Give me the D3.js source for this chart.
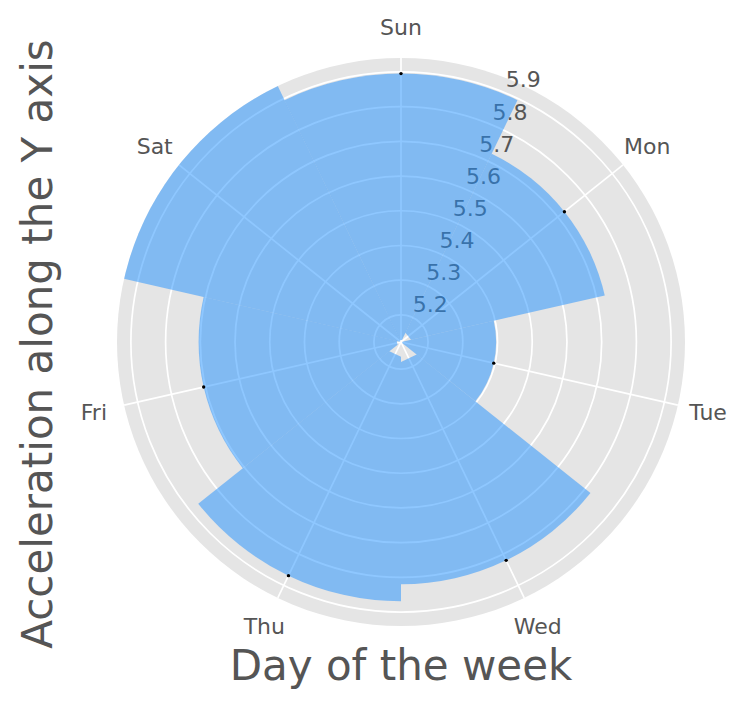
<!DOCTYPE html>
<html>
<head>
<meta charset="utf-8">
<script src="https://cdn.jsdelivr.net/npm/d3@7"></script>
<style>
  body { margin: 0; background: #fff; }
  text { font-family: "DejaVu Sans", sans-serif; fill: #555555; }
</style>
</head>
<body>
<div class="visHolder"></div>
<script>
const w = 748, h = 706;
const cx = 401, cy = 342, outerR = 284;

// data
const days = ['Sun', 'Mon', 'Tue', 'Wed', 'Thu', 'Fri', 'Sat'];
const accel = [5.895, 5.724, 5.396, 5.820, 5.869, 5.705, 5.96];
const rTicks = [5.2, 5.3, 5.4, 5.5, 5.6, 5.7, 5.8, 5.9];
const rLimits = [5.122, 5.94];

const svg = d3.select('.visHolder')
  .append('svg')
  .attr('width', w)
  .attr('height', h);

const rScale = d3.scaleLinear().domain(rLimits).range([0, outerR]);
const step = 2 * Math.PI / days.length;
const angle = d3.scaleLinear().domain([0, days.length]).range([0, 2 * Math.PI]);

// compass angle (clockwise from north) -> screen point
const pt = (a, r) => [cx + r * Math.sin(a), cy - r * Math.cos(a)];

svg.append('clipPath').attr('id', 'polar-clip')
  .append('circle').attr('cx', cx).attr('cy', cy).attr('r', outerR);

const plot = svg.append('g');

// background disc
plot.append('circle')
  .attr('cx', cx).attr('cy', cy).attr('r', outerR)
  .attr('fill', '#e5e5e5');

// grid rings
plot.selectAll('.ring')
  .data(rTicks)
  .enter()
  .append('circle')
  .attr('class', 'ring')
  .attr('cx', cx).attr('cy', cy)
  .attr('r', d => rScale(d))
  .attr('fill', 'none')
  .attr('stroke', '#fff')
  .attr('stroke-width', 1.7);

// spokes
plot.selectAll('.spoke')
  .data(days)
  .enter()
  .append('line')
  .attr('class', 'spoke')
  .attr('x1', cx).attr('y1', cy)
  .attr('x2', (d, i) => pt(angle(i), outerR)[0])
  .attr('y2', (d, i) => pt(angle(i), outerR)[1])
  .attr('stroke', '#fff')
  .attr('stroke-width', 1.7);

// radial tick labels along 22.5 degrees (drawn under the bars)
const labAng = 22.5 * Math.PI / 180;
plot.selectAll('.rlabel')
  .data(rTicks)
  .enter()
  .append('text')
  .attr('class', 'rlabel')
  .attr('x', d => pt(labAng, rScale(d))[0] + 1.5)
  .attr('y', d => pt(labAng, rScale(d))[1] - 5)
  .style('font-size', '22px')
  .text(d => d3.format('.1f')(d));

// bars: wedges whose tips get cut off near the centre, like the source renderer
const nSteps = 100;
const barPath = (v, i) => {
  const a0 = angle(i) - step / 2, a1 = angle(i) + step / 2;
  const stepV = v / nSteps;
  const firstV = Math.ceil(rLimits[0] / stepV) * stepV;
  const rIn = rScale(firstV), rTop = rScale(v);
  const p = d3.path();
  const s = pt(a1, rIn);
  p.moveTo(s[0], s[1]);
  const t = pt(a1, rTop);
  p.lineTo(t[0], t[1]);
  p.arc(cx, cy, rTop, a1 - Math.PI / 2, a0 - Math.PI / 2, true);
  const e = pt(a0, rIn);
  p.lineTo(e[0], e[1]);
  p.closePath();
  return p.toString();
};

const bars = svg.append('g').attr('clip-path', 'url(#polar-clip)');
bars.selectAll('path')
  .data(accel)
  .enter()
  .append('path')
  .attr('d', barPath)
  .attr('fill', '#1e90ff')
  .attr('fill-opacity', 0.5);

// small black markers at the bar tops
bars.selectAll('.cap')
  .data(accel)
  .enter()
  .append('circle')
  .attr('class', 'cap')
  .attr('cx', (d, i) => pt(angle(i), rScale(d))[0])
  .attr('cy', (d, i) => pt(angle(i), rScale(d))[1])
  .attr('r', 1.7)
  .attr('fill', '#000');

// day labels
svg.selectAll('.daylabel')
  .data(days)
  .enter()
  .append('text')
  .attr('class', 'daylabel')
  .attr('x', (d, i) => pt(angle(i), outerR + 31)[0])
  .attr('y', (d, i) => pt(angle(i), outerR + 31)[1])
  .attr('dy', '0.36em')
  .attr('text-anchor', 'middle')
  .style('font-size', '22px')
  .text(d => d);

// axis titles
svg.append('text')
  .attr('x', cx)
  .attr('y', 680)
  .attr('text-anchor', 'middle')
  .style('font-size', '42px')
  .text('Day of the week');

svg.append('text')
  .attr('transform', `translate(52, ${cy + 2}) rotate(-90)`)
  .attr('text-anchor', 'middle')
  .style('font-size', '42px')
  .text('Acceleration along the Y axis');
</script>
</body>
</html>
